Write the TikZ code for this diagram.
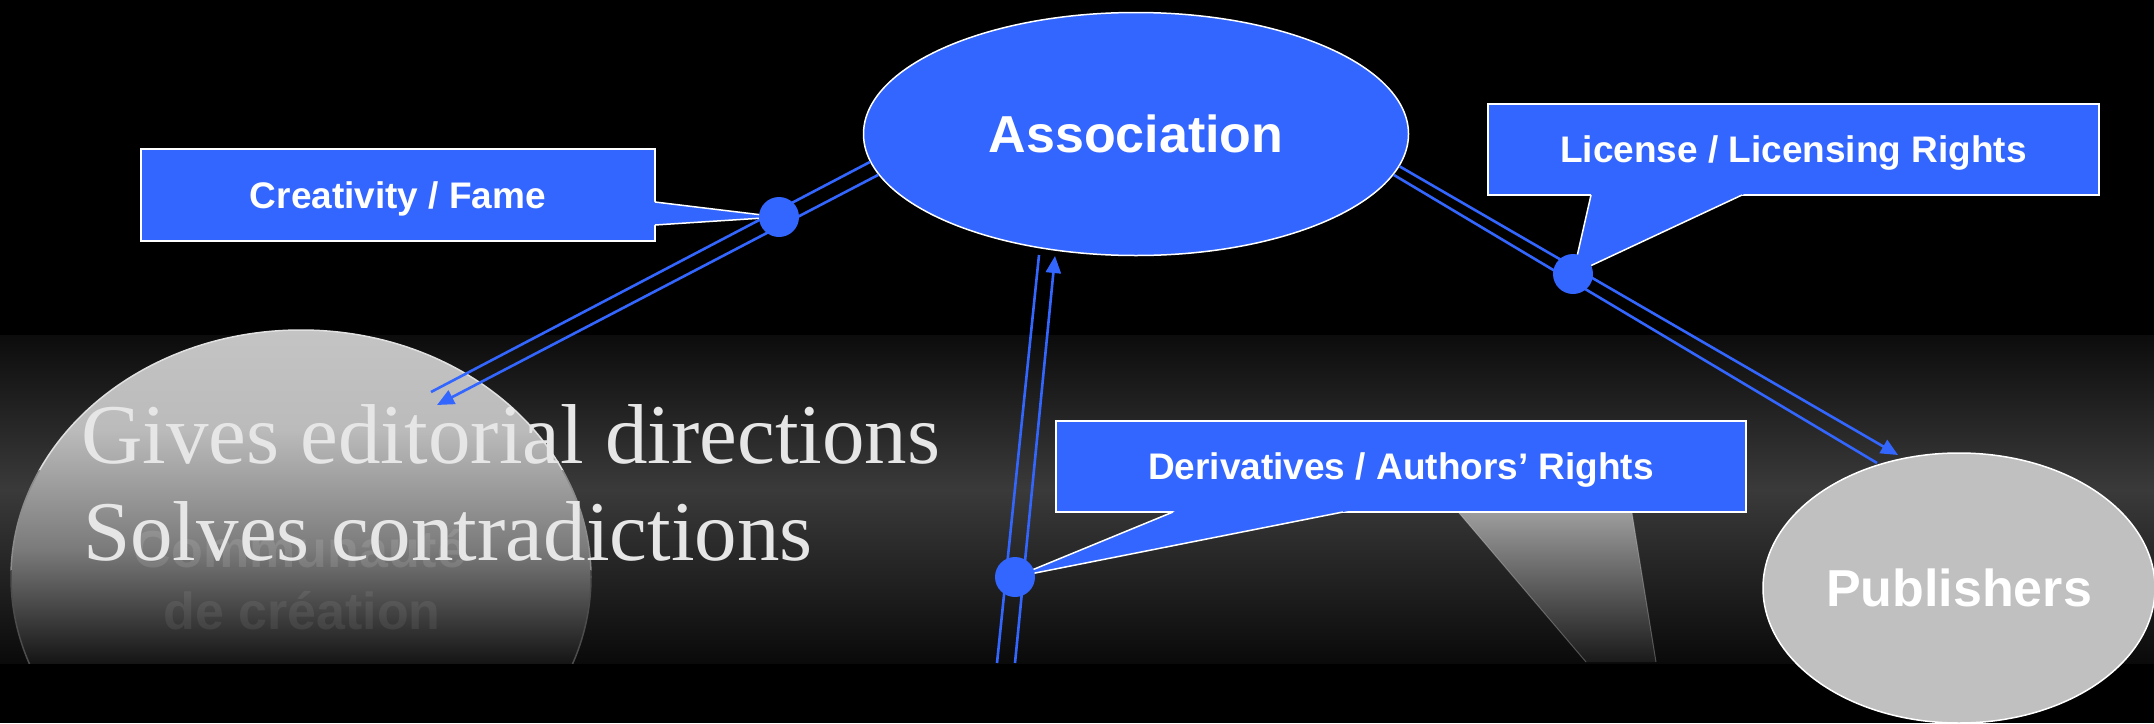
\documentclass[tikz,border=0pt]{standalone}
\usepackage{fontspec}
\setmainfont{Liberation Serif}
\setsansfont{Liberation Sans}
\usetikzlibrary{shapes.geometric,arrows.meta,calc}
\definecolor{pblue}{HTML}{3366FF}
\definecolor{bandtop}{HTML}{0C0C0C}
\definecolor{bandmid}{HTML}{3A3A3A}
\definecolor{bandbot}{HTML}{0A0A0A}
\definecolor{ellA}{HTML}{C4C4C4}
\definecolor{ellB}{HTML}{BBBBBB}
\definecolor{ellC}{HTML}{7A7A7A}
\definecolor{ellD}{HTML}{151515}
\definecolor{pubgray}{HTML}{C0C0C0}
\definecolor{serifgray}{HTML}{E6E6E6}
\definecolor{trapA}{HTML}{9C9C9C}
\definecolor{trapB}{HTML}{1A1A1A}
\begin{document}
\begin{tikzpicture}[x=1pt,y=-1pt,
  conn/.style={draw=pblue, line width=2.6pt},
  tipend/.style={-{Triangle[length=17pt,width=15pt]}},
  callbox/.style={rectangle, fill=pblue, draw=white, line width=1.5pt, inner sep=0pt,
    text=white, font=\sffamily\bfseries\fontsize{37}{44}\selectfont,
    text height=26.5pt, text depth=0pt},
  bigell/.style={ellipse, draw=white, line width=1.5pt, inner sep=0pt, text=white,
    font=\sffamily\bfseries\fontsize{52}{62}\selectfont, text height=37.2pt, text depth=0pt},
  dotn/.style={circle, fill=pblue, minimum size=40pt, inner sep=0pt},
  serift/.style={text=serifgray, font=\rmfamily\fontsize{85}{97}\selectfont, inner sep=0pt},
  commtxt/.style={text=white, font=\sffamily\bfseries\fontsize{52}{62}\selectfont, inner sep=0pt},
  pside/.style={draw=white, line width=1.5pt, line join=round}
]
\useasboundingbox (0,0) rectangle (2154,723);
% background
\fill[black] (0,0) rectangle (2154,723);
\shade[top color=bandtop, bottom color=bandmid] (0,335) rectangle (2154,490);
\shade[top color=bandmid, bottom color=bandbot] (0,489.5) rectangle (2154,663);

% faded "Communaute" ellipse
\begin{scope}
  \clip (0,0) rectangle (2154,663);
  \clip (301,577) ellipse [x radius=290, y radius=247];
  \shade[top color=ellA, bottom color=ellB] (0,329) rectangle (600,430);
  \shade[top color=ellB, bottom color=ellC] (0,429.5) rectangle (600,550);
  \shade[top color=ellC, bottom color=ellD] (0,549.5) rectangle (600,663);
\end{scope}
\begin{scope}
  \clip (0,0) rectangle (2154,470);
  \draw[white!88!black, line width=1.5pt] (301,577) ellipse [x radius=290, y radius=247];
\end{scope}
\begin{scope}
  \clip (0,470) rectangle (2154,570);
  \draw[white!55!black, line width=1.5pt] (301,577) ellipse [x radius=290, y radius=247];
\end{scope}
\begin{scope}
  \clip (0,570) rectangle (2154,663);
  \draw[white!30!black, line width=1.5pt] (301,577) ellipse [x radius=290, y radius=247];
\end{scope}
\node[commtxt, text opacity=0.11, anchor=base] (comm1) at (300,567) {Communauté};
\node[commtxt, text opacity=0.07, anchor=base] (comm2) at (302,629) {de création};

% grey reflected wedge
\shade[top color=trapA, bottom color=trapB] (1459,513) -- (1632,513) -- (1656,662) -- (1586,662) -- cycle;
\draw[white, opacity=0.25, line width=1pt] (1459,513) -- (1586,662);
\draw[white, opacity=0.25, line width=1pt] (1632,513) -- (1656,662);

% main ellipses
\node[bigell, fill=pblue, minimum width=545pt, minimum height=243pt] (assoc) at (1136,134) {Association};
\node[bigell, fill=pubgray, minimum width=392pt, minimum height=270pt] (pub) at (1959,588) {Publishers};

% connectors
\coordinate (a1e) at (431,392);
\coordinate (a2e) at (437,405);
\draw[conn] (assoc.186.2) -- (a1e);
\draw[conn, tipend] (assoc.189) -- (a2e);

\coordinate (v1s) at (1039,255);
\coordinate (v1e) at (997,663);
\coordinate (v2s) at (1015,663);
\coordinate (v2e) at (1055,256);
\draw[conn] (v1s) -- (v1e);
\draw[conn, tipend] (v2s) -- (v2e);

\coordinate (p1e) at (1898,455);
\coordinate (p2e) at (1877,463);
\draw[conn, tipend] (assoc.353.3) -- (p1e);
\draw[conn] (assoc.351) -- (p2e);

% serif text
\node[serift, anchor=base west] (giv1) at (81,463) {Gives editorial directions};
\node[serift, anchor=base west] (giv2) at (83,560) {Solves contradictions};

% callouts
\coordinate (k1) at (779,217);
\coordinate (k2) at (1573,274);
\coordinate (k3) at (1015,577);
\node[callbox, minimum width=514pt, minimum height=92pt] (cre) at (398,195) {Creativity / Fame};
\node[callbox, minimum width=611pt, minimum height=91pt] (lic) at (1793.5,149.5) {License / Licensing Rights};
\node[callbox, minimum width=690pt, minimum height=91pt] (der) at (1401,466.5) {Derivatives / Authors’ Rights};

\fill[pblue] (651,201.5) -- (k1) -- (651,225.3) -- cycle;
\draw[pside] (655,202) -- (k1) -- (655,225);
\fill[pblue] (1591.9,191) -- (1750.6,191) -- (k2) -- cycle;
\draw[pside] (1591,195) -- (k2) -- (1742,195);
\fill[pblue] (1182.7,508) -- (1363.2,508) -- (k3) -- cycle;
\draw[pside] (1173,512) -- (k3) -- (1343,512);

% dots
\node[dotn] (d1) at (k1) {};
\node[dotn] (d2) at (k2) {};
\node[dotn] (d3) at (k3) {};
\end{tikzpicture}
\end{document}
